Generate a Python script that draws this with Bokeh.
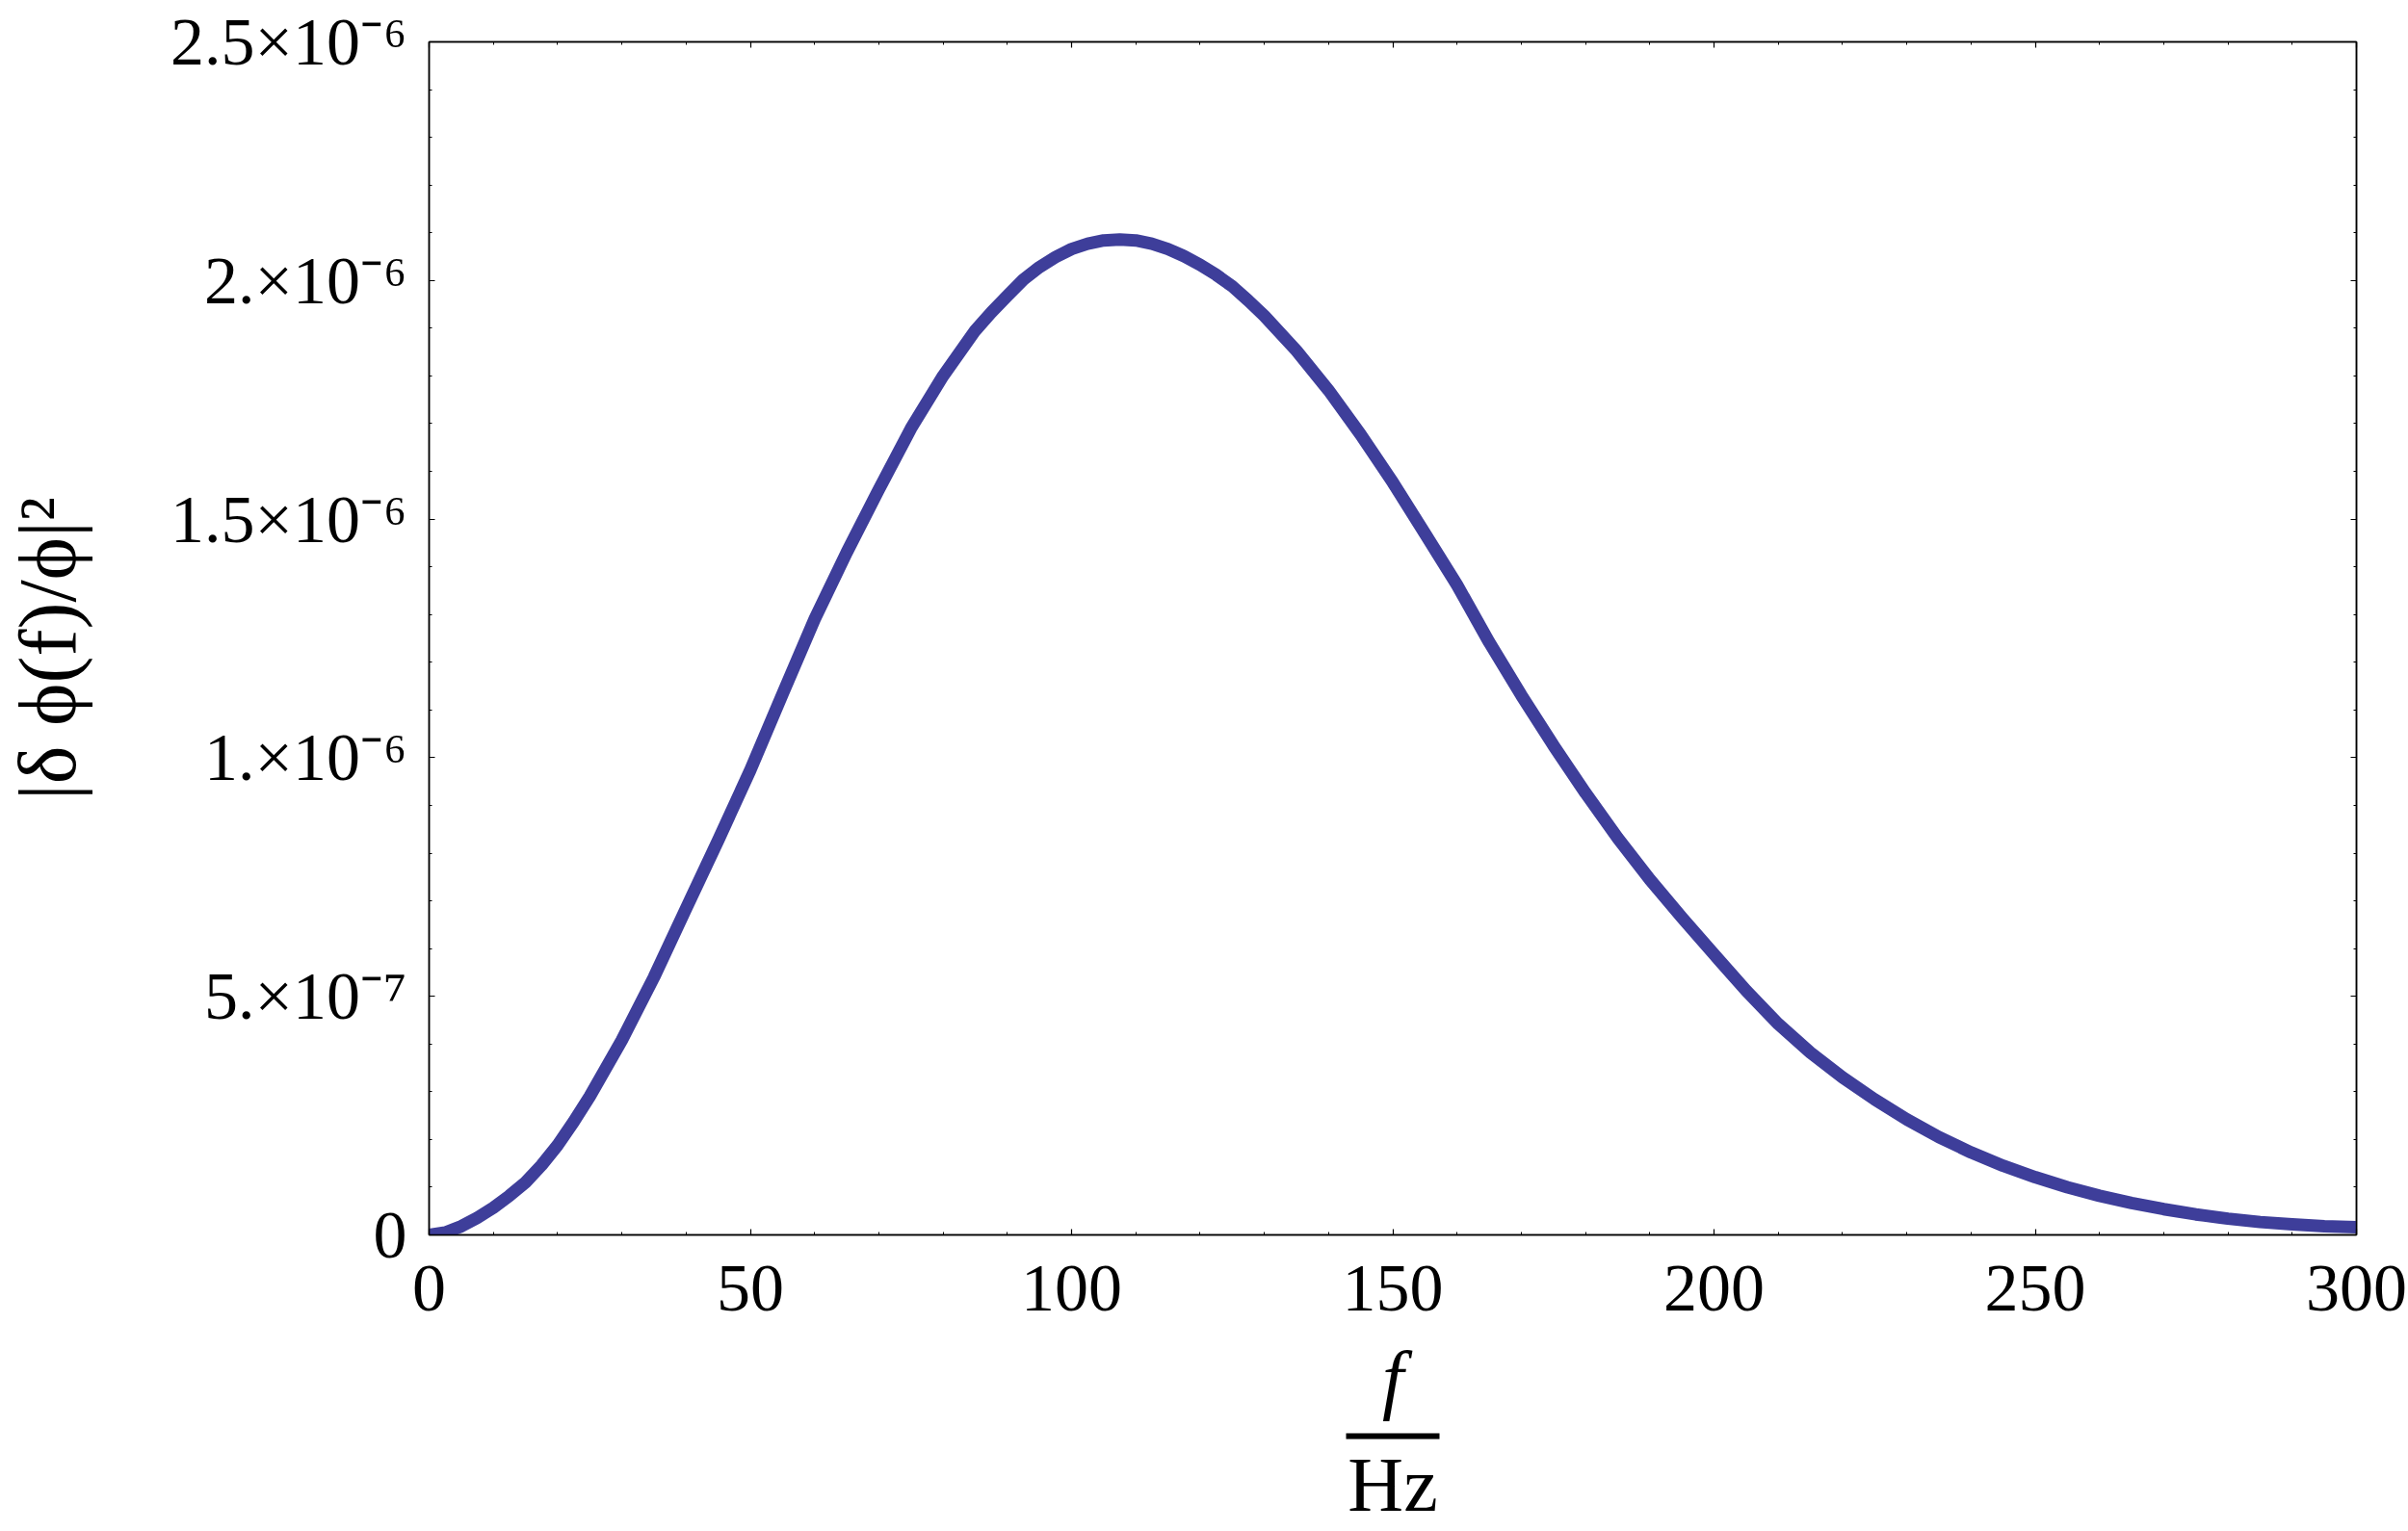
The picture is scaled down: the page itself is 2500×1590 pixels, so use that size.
from bokeh.plotting import figure
from bokeh.models import (ColumnDataSource, LinearAxis, SingleIntervalTicker, FixedTicker,
                          Range1d, CustomJSTickFormatter)
from bokeh.embed import file_html
from bokeh.resources import INLINE

# ---------------- data ----------------
freq_hz = [0, 2.5, 5, 7.5, 10, 12.5, 15, 17.5, 20, 22.5, 25, 30, 35, 40, 45, 50, 55, 60, 65,
           70, 75, 80, 85, 87.5, 90, 92.5, 95, 97.5, 100, 102.5, 105, 107.5, 110, 112.5,
           115, 117.5, 120, 122.5, 125, 127.5, 130, 135, 140, 145, 150, 155, 160, 165, 170,
           175, 180, 185, 190, 195, 200, 205, 210, 215, 220, 225, 230, 235, 240, 245, 250,
           255, 260, 265, 270, 275, 280, 285, 290, 295, 300]
# |delta phi(f)/phi|^2 in units of 1e-6
dphi_sq_e6 = [0.000, 0.005, 0.018, 0.036, 0.057, 0.082, 0.110, 0.146, 0.188, 0.237, 0.290,
              0.408, 0.540, 0.684, 0.827, 0.974, 1.133, 1.290, 1.430, 1.562, 1.690, 1.800,
              1.895, 1.933, 1.968, 2.002, 2.028, 2.049, 2.066, 2.077, 2.084, 2.086, 2.084,
              2.077, 2.066, 2.051, 2.033, 2.012, 1.988, 1.958, 1.926, 1.853, 1.770, 1.677,
              1.577, 1.470, 1.362, 1.242, 1.131, 1.026, 0.926, 0.832, 0.745, 0.665, 0.588,
              0.512, 0.442, 0.382, 0.330, 0.284, 0.242, 0.205, 0.173, 0.145, 0.121, 0.100,
              0.082, 0.067, 0.054, 0.043, 0.034, 0.027, 0.022, 0.018, 0.016]
y_unit = 1e-6

x_ticks = [0, 50, 100, 150, 200, 250, 300]
x_tick_labels = ["0", "50", "100", "150", "200", "250", "300"]
y_ticks = [0.0, 0.5e-6, 1.0e-6, 1.5e-6, 2.0e-6, 2.5e-6]
y_tick_labels = ["0", "5.\u00d710\u207b\u2077", "1.\u00d710\u207b\u2076", "1.5\u00d710\u207b\u2076",
                 "2.\u00d710\u207b\u2076", "2.5\u00d710\u207b\u2076"]
x_label_num = "f"
x_label_den = "Hz"
y_label = "|\u03b4 \u03d5(f)/\u03d5|\u00b2"

X_MIN, X_MAX = 0, 300
Y_MIN, Y_MAX = 0.0, 2.5e-6

# ---------------- layout ----------------
W, H = 2500, 1590
ML, MR, MT, MB = 442, 54, 43, 308
frame_w = W - ML - MR

FONT = "Liberation Serif"
LINE_COLOR = "#3e3e9a"

p = figure(width=W, height=H, output_backend="svg", toolbar_location=None,
           x_range=Range1d(X_MIN, X_MAX), y_range=Range1d(Y_MIN, Y_MAX),
           min_border_left=ML, min_border_right=MR, min_border_top=MT, min_border_bottom=MB)
p.background_fill_color = "white"
p.border_fill_color = "white"
p.grid.visible = False
p.outline_line_color = "black"
p.outline_line_width = 1.5

empty = CustomJSTickFormatter(code="return ''")

def style_axis(ax):
    ax.axis_line_color = "black"
    ax.axis_line_width = 1.5
    ax.major_tick_line_color = "black"
    ax.minor_tick_line_color = "black"
    ax.major_tick_line_width = 1.2
    ax.minor_tick_line_width = 1.0
    ax.major_tick_in = 6
    ax.major_tick_out = 0
    ax.minor_tick_in = 3
    ax.minor_tick_out = 0

def hidden_axis(ax):
    ax.axis_line_color = None
    ax.major_tick_line_color = None
    ax.minor_tick_line_color = None
    ax.major_tick_in = 0
    ax.minor_tick_in = 0
    ax.minor_tick_out = 0
    ax.major_label_standoff = 0

x_mid = (X_MIN + X_MAX) / 2

# bottom axis: numbers and the numerator "f"
xa = p.xaxis[0]
xa.ticker = SingleIntervalTicker(interval=50, num_minor_ticks=5)
style_axis(xa)
xa.major_label_overrides = {t: s for t, s in zip(x_ticks, x_tick_labels)}
xa.major_label_text_font = FONT
xa.major_label_text_font_size = "70px"
xa.major_label_text_color = "black"
xa.major_label_standoff = 32
xa.axis_label = x_label_num
xa.axis_label_text_font = FONT
xa.axis_label_text_font_style = "italic"
xa.axis_label_text_font_size = "80px"
xa.axis_label_text_color = "black"
xa.axis_label_standoff = 24

# invisible spacer between numerator and fraction bar
spacer = LinearAxis(ticker=FixedTicker(ticks=[x_mid]), formatter=empty)
hidden_axis(spacer)
spacer.major_tick_out = 13
spacer.major_label_text_font_size = "1px"
p.add_layout(spacer, "below")

# fraction bar (axis line limited by bounds) and the denominator "Hz"
bar_half = 48.5 * (X_MAX - X_MIN) / frame_w
den = LinearAxis(ticker=FixedTicker(ticks=[]), formatter=empty,
                 bounds=(x_mid - bar_half, x_mid + bar_half))
hidden_axis(den)
den.major_tick_out = 0
den.axis_line_color = "black"
den.axis_line_width = 6
den.axis_label = x_label_den
den.axis_label_text_font = FONT
den.axis_label_text_font_style = "normal"
den.axis_label_text_font_size = "80px"
den.axis_label_text_color = "black"
den.axis_label_standoff = 6
p.add_layout(den, "below")

# left axis
ya = p.yaxis[0]
ya.ticker = SingleIntervalTicker(interval=0.5e-6, num_minor_ticks=5)
style_axis(ya)
ya.formatter = CustomJSTickFormatter(
    args=dict(vals=y_ticks, labels=y_tick_labels),
    code="""
const i = vals.findIndex(v => Math.abs(v - tick) < 1e-12);
return i < 0 ? '' : labels[i];
""")
ya.major_label_text_font = FONT
ya.major_label_text_font_size = "70px"
ya.major_label_text_color = "black"
ya.major_label_standoff = 23
ya.axis_label = y_label + "\u00a0"
ya.axis_label_text_font = FONT
ya.axis_label_text_font_size = "84px"
ya.axis_label_text_font_style = "normal"
ya.axis_label_text_color = "black"
ya.axis_label_standoff = 78

# top and right frame axes (ticks only)
top = LinearAxis(ticker=SingleIntervalTicker(interval=50, num_minor_ticks=5), formatter=empty)
style_axis(top)
top.major_label_standoff = 0
p.add_layout(top, "above")
right = LinearAxis(ticker=SingleIntervalTicker(interval=0.5e-6, num_minor_ticks=5), formatter=empty)
style_axis(right)
right.major_label_standoff = 0
p.add_layout(right, "right")

# curve
src = ColumnDataSource(dict(f=freq_hz, v=[d * y_unit for d in dphi_sq_e6]))
p.line("f", "v", source=src, line_color=LINE_COLOR, line_width=13, line_join="round", line_cap="butt")

open("out.html", "w").write(file_html(p, INLINE))
